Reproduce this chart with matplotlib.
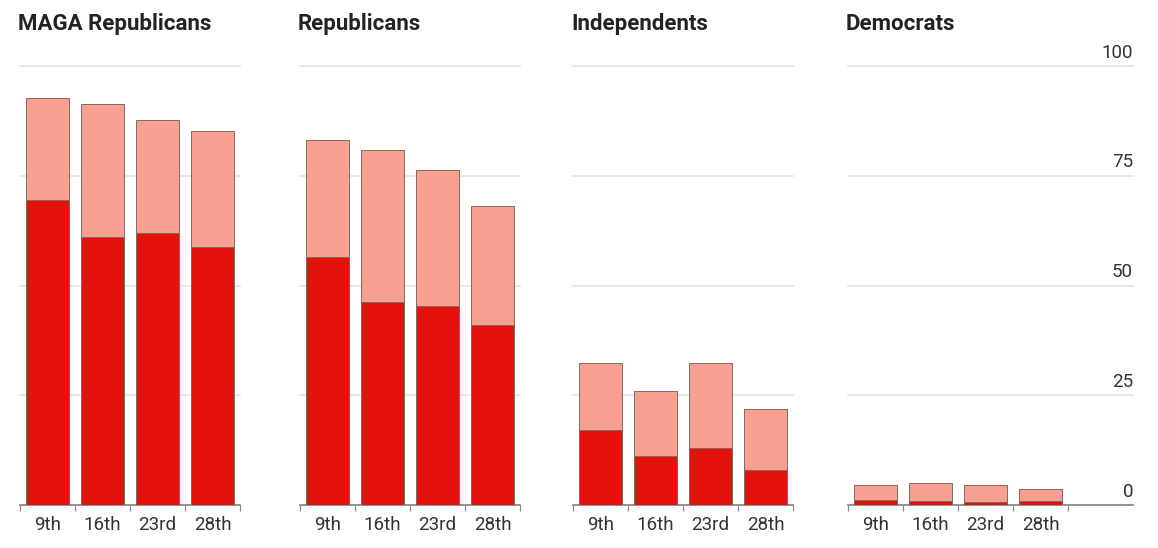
import matplotlib
matplotlib.use("Agg")
import matplotlib.pyplot as plt
import numpy as np

plt.rcParams['font.family'] = ['Roboto', 'DejaVu Sans']

groups = ["MAGA Republicans", "Republicans", "Independents", "Democrats"]
weeks = ["9th", "16th", "23rd", "28th"]

# dark (strong) share and total share (top of stacked bar), percent
maga_dark = [69.5, 61.1, 62.0, 58.8]
maga_total = [92.8, 91.4, 87.8, 85.3]
rep_dark = [56.4, 46.2, 45.3, 41.0]
rep_total = [83.1, 80.9, 76.2, 68.1]
ind_dark = [17.1, 11.2, 12.9, 8.0]
ind_total = [32.3, 26.0, 32.3, 21.8]
dem_dark = [1.2, 0.9, 0.6, 1.0]
dem_total = [4.6, 5.1, 4.6, 3.6]

darks = [maga_dark, rep_dark, ind_dark, dem_dark]
totals = [maga_total, rep_total, ind_total, dem_total]

y_ticks = [0, 25, 50, 75, 100]

DARK = "#e3120b"
LIGHT = "#f9a190"
EDGE = "#7a6a68"
GRID = "#e6e6e6"
TXT = "#333333"

W, H = 1158, 548
fig = plt.figure(figsize=(W / 100, H / 100), dpi=100)

lefts = [20, 300, 573, 848]
widths = [220, 220, 220, 285]
y0, y1 = 505, 66
unit = 220 / 4.0

for i, g in enumerate(groups):
    ax = fig.add_axes([lefts[i] / W, (H - y0) / H, widths[i] / W, (y0 - y1) / H])
    x = np.arange(len(weeks))
    xmax = -0.5 + widths[i] / unit
    ax.set_xlim(-0.5, xmax)
    ax.set_ylim(0, 100)
    for s in ax.spines.values():
        s.set_visible(False)
    for yt in y_ticks[1:]:
        ax.axhline(yt, color=GRID, lw=1.3, zorder=0, clip_on=False)
    ax.axhline(0, color="#8a8a8a", lw=1.3, zorder=1, clip_on=False)
    d = np.array(darks[i])
    t = np.array(totals[i])
    ax.bar(x, d, width=0.78, color=DARK, edgecolor=EDGE, linewidth=0.7, zorder=3)
    ax.bar(x, t - d, bottom=d, width=0.78, color=LIGHT, edgecolor=EDGE, linewidth=0.7, zorder=3)
    ax.set_xticks(x)
    ax.set_xticklabels(weeks, fontsize=13.5, color=TXT)
    ax.tick_params(axis='x', which='major', length=0, pad=8)
    ax.set_xticks(np.arange(-0.5, len(weeks), 1.0), minor=True)
    ax.tick_params(axis='x', which='minor', length=4, width=0.9, color="#8a8a8a")
    ax.set_yticks([])
    ax.text(-0.5 - 2 / unit, 100 + 42 / 4.39, g, fontsize=16, fontweight='bold',
            color="#222222", ha='left', va='center', clip_on=False)
    if i == len(groups) - 1:
        for yt in y_ticks:
            ax.text(xmax, yt + 1.0, str(yt), fontsize=13.5, color=TXT,
                    ha='right', va='bottom', clip_on=False)

fig.savefig("out.png", dpi=100, facecolor="white")
